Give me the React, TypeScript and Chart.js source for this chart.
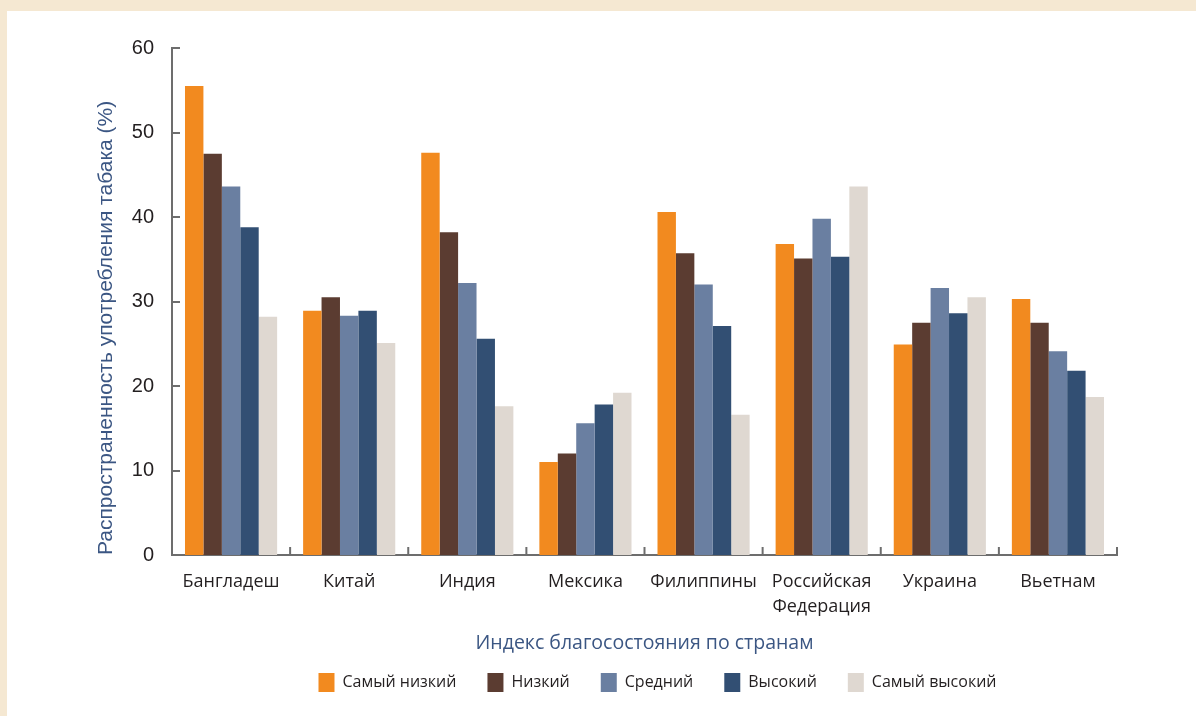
import React, { useEffect, useRef } from "react";
import { Chart, registerables } from "chart.js";

Chart.register(...registerables);

// ---- data ----
const categories: (string | string[])[] = [
  "Бангладеш",
  "Китай",
  "Индия",
  "Мексика",
  "Филиппины",
  ["Российская", "Федерация"],
  "Украина",
  "Вьетнам",
];
const seriesNames = ["Самый низкий", "Низкий", "Средний", "Высокий", "Самый высокий"];
const lowest = [55.5, 28.9, 47.6, 11.0, 40.6, 36.8, 24.9, 30.3];
const low = [47.5, 30.5, 38.2, 12.0, 35.7, 35.1, 27.5, 27.5];
const middle = [43.6, 28.3, 32.2, 15.6, 32.0, 39.8, 31.6, 24.1];
const high = [38.8, 28.9, 25.6, 17.8, 27.1, 35.3, 28.6, 21.8];
const highest = [28.2, 25.1, 17.6, 19.2, 16.6, 43.6, 30.5, 18.7];
const yMin = 0;
const yMax = 60;
const yStep = 10;
const yTitle = "Распространенность употребления табака (%)";
const xTitle = "Индекс благосостояния по странам";

// ---- styles ----
const palette = ["#F28A1F", "#5B3C31", "#6A7FA1", "#324F73", "#DFD8D1"];
const axisGray = "#6d6d6d";
const textDark = "#231f20";
const titleBlue = "#3b5683";

const innerTicks = {
  id: "innerTicks",
  afterLayout(chart: any) {
    const lg = chart.legend;
    if (lg) {
      lg.left += 13;
      lg.right += 13;
    }
  },
  afterDatasetsDraw(chart: any) {
    const { ctx, chartArea, scales } = chart;
    const x = scales.x;
    const y = scales.y;
    ctx.save();
    ctx.strokeStyle = axisGray;
    ctx.lineWidth = 2;
    y.ticks.forEach((t: any) => {
      if (t.value === yMin) return;
      const py = Math.round(y.getPixelForValue(t.value));
      ctx.beginPath();
      ctx.moveTo(chartArea.left, py);
      ctx.lineTo(chartArea.left + 8, py);
      ctx.stroke();
    });
    const n = x.ticks.length;
    for (let i = 1; i <= n; i++) {
      const px =
        i === n
          ? chartArea.right
          : (x.getPixelForValue(i - 1) + x.getPixelForValue(i)) / 2;
      ctx.beginPath();
      ctx.moveTo(px, chartArea.bottom);
      ctx.lineTo(px, chartArea.bottom - 8);
      ctx.stroke();
    }
    ctx.restore();
  },
};

export default function App() {
  const ref = useRef<HTMLCanvasElement | null>(null);

  useEffect(() => {
    if (!ref.current) return;
    const series = [lowest, low, middle, high, highest];
    const chart = new Chart(ref.current, {
      type: "bar",
      data: {
        labels: categories,
        datasets: series.map((d, i) => ({
          label: seriesNames[i],
          data: d,
          backgroundColor: palette[i],
          borderWidth: 0,
          categoryPercentage: 0.78,
          barPercentage: 1.0,
        })),
      },
      options: {
        animation: false,
        responsive: false,
        devicePixelRatio: 1,
        layout: { padding: { left: 0, right: 79, top: 48, bottom: 14 } },
        plugins: {
          tooltip: { enabled: false },
          legend: {
            position: "bottom",
            fullSize: false,
            labels: {
              boxWidth: 16,
              boxHeight: 19,
              padding: 31,
              color: textDark,
              font: { family: "'Open Sans', sans-serif", size: 16 },
            },
          },
        },
        scales: {
          x: {
            grid: { display: false, drawTicks: false },
            border: { display: true, color: axisGray, width: 2 },
            ticks: {
              color: textDark,
              padding: 14,
              maxRotation: 0,
              autoSkip: false,
              font: { family: "'Open Sans', sans-serif", size: 18, lineHeight: 1.39 },
            },
            title: {
              display: true,
              text: xTitle,
              color: titleBlue,
              font: { family: "'Open Sans', sans-serif", size: 19.5, lineHeight: 1.2 },
              padding: { top: 0, bottom: -13 },
            },
            afterFit(scale: any) {
              scale.height = 87;
            },
          },
          y: {
            min: yMin,
            max: yMax,
            grid: { display: false, drawTicks: false },
            border: { display: true, color: axisGray, width: 2 },
            ticks: {
              stepSize: yStep,
              color: textDark,
              padding: 18,
              font: { family: "'Liberation Sans', Arial, sans-serif", size: 20 },
            },
            title: {
              display: true,
              text: yTitle,
              align: "start",
              color: titleBlue,
              font: { family: "'Liberation Sans', Arial, sans-serif", size: 21, lineHeight: 1.2 },
              padding: { top: 94, bottom: 0 },
            },
            afterFit(scale: any) {
              scale.width = 172;
            },
          },
        },
      },
      plugins: [innerTicks],
    } as any);
    return () => chart.destroy();
  }, []);

  return (
    <div
      style={{
        position: "fixed",
        left: 0,
        top: 0,
        width: 1196,
        height: 716,
        background: "#F5E8D2",
        overflow: "hidden",
      }}
    >
      <div
        style={{
          position: "absolute",
          left: 7,
          top: 11,
          width: 1189,
          height: 705,
          background: "#ffffff",
        }}
      />
      <canvas
        ref={ref}
        width={1196}
        height={716}
        style={{ position: "absolute", left: 0, top: 0, width: 1196, height: 716 }}
      />
    </div>
  );
}
